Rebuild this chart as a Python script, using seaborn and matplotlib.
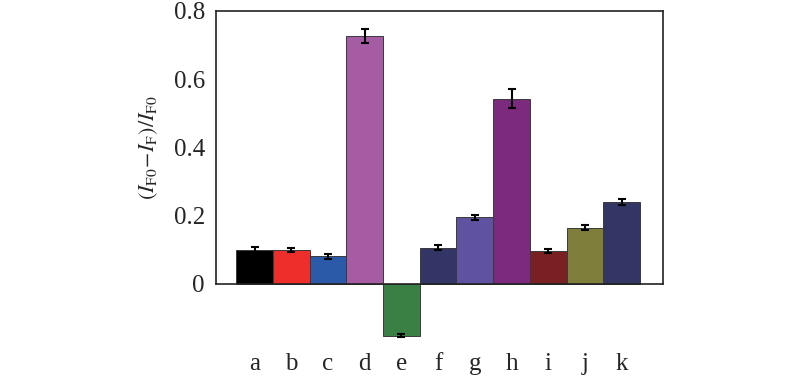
import matplotlib
matplotlib.use("Agg")
import matplotlib.pyplot as plt
import seaborn as sns

# data
labels = ["a", "b", "c", "d", "e", "f", "g", "h", "i", "j", "k"]
values = [0.100, 0.098, 0.081, 0.727, -0.152, 0.106, 0.195, 0.543, 0.096, 0.165, 0.240]
errors = [0.008, 0.006, 0.007, 0.020, 0.004, 0.007, 0.007, 0.029, 0.005, 0.007, 0.009]
colors = ["#000000", "#EE2E2B", "#2A5AA8", "#A55CA3", "#3A8044", "#333566",
          "#5F52A0", "#7B2A7D", "#7A2023", "#7F7F3B", "#333565"]

sns.set_style("white")
plt.rcParams["font.family"] = ["Liberation Serif", "DejaVu Serif"]
plt.rcParams["mathtext.fontset"] = "stix"

fig = plt.figure(figsize=(8, 3.76), dpi=100)
ax = fig.add_axes([0.27, 0.245, 0.559, 0.726])

sns.barplot(x=labels, y=values, hue=labels, palette=colors, legend=False,
            saturation=1, width=1.0, edgecolor="#3a3a3a", linewidth=0.7, ax=ax)
for p in ax.patches:
    p.set_clip_on(False)

eb = ax.errorbar(range(len(labels)), values, yerr=errors, fmt="none",
                 ecolor="black", elinewidth=1.5, capsize=3, capthick=1.5)
for artist in eb.lines[1] + eb.lines[2]:
    artist.set_clip_on(False)

ax.set_xlim(-1.05, 11.13)
ax.set_ylim(0, 0.8)
ax.set_yticks([0, 0.2, 0.4, 0.6, 0.8])
ax.set_yticklabels(["0", "0.2", "0.4", "0.6", "0.8"])
ax.tick_params(axis="y", direction="in", length=5, width=1, labelsize=18, pad=8)
ax.tick_params(axis="x", length=0, labelsize=18, pad=50)
ax.set_ylabel(r"$(\mathit{I}_{\mathrm{F0}}\!-\!\mathit{I}_{\mathrm{F}})/\mathit{I}_{\mathrm{F0}}$",
              fontsize=16, labelpad=10)
ax.set_xlabel("")

for s in ax.spines.values():
    s.set_visible(True)
    s.set_color("#222222")
    s.set_linewidth(1.2)

fig.savefig("out.png", dpi=100)
